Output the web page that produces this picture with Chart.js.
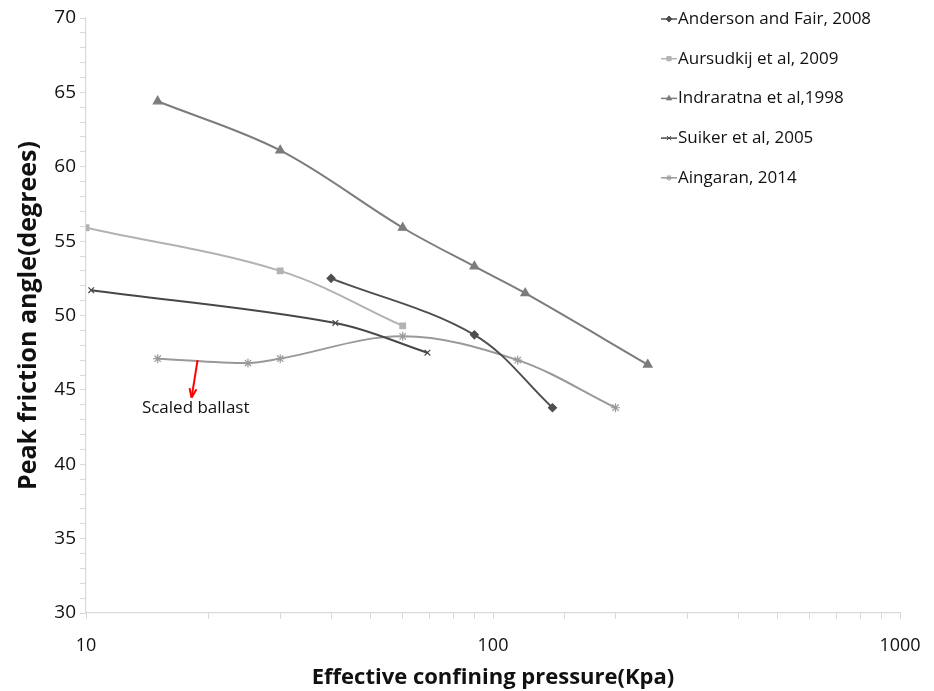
<!DOCTYPE html>
<html>
<head>
<meta charset="utf-8">
<script src="https://cdn.jsdelivr.net/npm/chart.js@4/dist/chart.umd.min.js"></script>
<style>
  html, body { margin: 0; padding: 0; background: #fff; }
  #wrap { width: 934px; height: 691px; }
</style>
</head>
<body>
<div id="wrap"><canvas id="c" width="934" height="691"></canvas></div>
<script>
// values (x = effective confining pressure, y = peak friction angle)
var seriesNames = ["Anderson and Fair, 2008", "Aursudkij et al, 2009", "Indraratna et al,1998", "Suiker et al, 2005", "Aingaran, 2014"];

var andersonX = [40, 90, 140];
var andersonY = [52.5, 48.7, 43.8];

var aursudkijX = [10, 30, 60];
var aursudkijY = [55.9, 53.0, 49.3];

var indraratnaX = [15, 30, 60, 90, 120, 240];
var indraratnaY = [64.4, 61.1, 55.9, 53.3, 51.5, 46.7];

var suikerX = [10.3, 41, 69];
var suikerY = [51.7, 49.5, 47.5];

var aingaranX = [15, 25, 30, 60, 115, 200];
var aingaranY = [47.1, 46.8, 47.1, 48.6, 47.0, 43.8];

var xLabels = [10, 100, 1000];
var annotationText = "Scaled ballast";

/* zip two arrays into {x, y} points */
var toPoints = function (xs, ys) {
    return xs.map(function (x, i) { return {x: x, y: ys[i]}; });
};

var styles = [
    {color: "#4f4f4f", point: "rectRot", radius: 4},
    {color: "#b2b2b2", point: "rect", radius: 4},
    {color: "#7c7c7c", point: "triangle", radius: 5},
    {color: "#474747", point: "crossRot", radius: 4},
    {color: "#999999", point: "star", radius: 4.5}
];
var allX = [andersonX, aursudkijX, indraratnaX, suikerX, aingaranX];
var allY = [andersonY, aursudkijY, indraratnaY, suikerY, aingaranY];

var datasets = seriesNames.map(function (name, i) {
    var s = styles[i];
    return {
        label: name,
        data: toPoints(allX[i], allY[i]),
        borderColor: s.color,
        backgroundColor: s.color,
        borderWidth: 2,
        pointStyle: s.point,
        pointRadius: s.radius,
        pointBorderWidth: 1.2,
        tension: 0.35,
        fill: false
    };
});

// legend drawn inside the plot, top right
var sideLegend = {
    id: "sideLegend",
    afterDraw: function (chart) {
        var ctx = chart.ctx;
        ctx.save();
        ctx.font = "17px 'Open Sans'";
        ctx.textBaseline = "middle";
        chart.data.datasets.forEach(function (ds, i) {
            var y = 19 + i * 39.7;
            ctx.strokeStyle = ds.borderColor;
            ctx.lineWidth = 1.5;
            ctx.beginPath();
            ctx.moveTo(661, y);
            ctx.lineTo(677, y);
            ctx.stroke();
            if (Chart.helpers && Chart.helpers.drawPoint) {
                ctx.fillStyle = ds.backgroundColor;
                ctx.lineWidth = 1;
                Chart.helpers.drawPoint(ctx, {pointStyle: ds.pointStyle, radius: 3, rotation: 0, borderWidth: 1}, 669, y);
            }
            ctx.fillStyle = "#111";
            ctx.fillText(ds.label, 678, y);
        });
        ctx.restore();
    }
};

// red arrow + note, anchored in data coordinates
var note = {
    id: "note",
    afterDatasetsDraw: function (chart) {
        var xs = chart.scales.x, ys = chart.scales.y, ctx = chart.ctx;
        var x0 = xs.getPixelForValue(18.8), y0 = ys.getPixelForValue(47.0);
        var x1 = xs.getPixelForValue(18.2), y1 = ys.getPixelForValue(44.6);
        ctx.save();
        ctx.strokeStyle = "#ff0000";
        ctx.fillStyle = "#ff0000";
        ctx.lineWidth = 2;
        ctx.beginPath();
        ctx.moveTo(x0, y0);
        ctx.lineTo(x1, y1);
        ctx.stroke();
        var a = Math.atan2(y1 - y0, x1 - x0);
        ctx.beginPath();
        ctx.moveTo(x1 + 2 * Math.cos(a), y1 + 2 * Math.sin(a));
        ctx.lineTo(x1 - 8 * Math.cos(a - 0.45), y1 - 8 * Math.sin(a - 0.45));
        ctx.moveTo(x1 + 2 * Math.cos(a), y1 + 2 * Math.sin(a));
        ctx.lineTo(x1 - 8 * Math.cos(a + 0.45), y1 - 8 * Math.sin(a + 0.45));
        ctx.stroke();
        ctx.font = "17px 'Open Sans'";
        ctx.fillStyle = "#111";
        ctx.textAlign = "center";
        ctx.textBaseline = "middle";
        ctx.fillText(annotationText, xs.getPixelForValue(18.6), ys.getPixelForValue(43.8));
        ctx.restore();
    }
};

new Chart(document.getElementById("c"), {
    type: "line",
    data: {datasets: datasets},
    plugins: [sideLegend, note],
    options: {
        responsive: false,
        animation: false,
        layout: {padding: {left: 14, right: 34, top: 18, bottom: 0}},
        plugins: {legend: {display: false}, tooltip: {enabled: false}},
        scales: {
            x: {
                type: "logarithmic",
                min: 10,
                max: 1000,
                afterFit: function (s) { s.height = 78; s.paddingRight = 0; s.paddingLeft = 0; },
                grid: {drawOnChartArea: false, drawTicks: true, tickLength: 6, color: "#d9d9d9", lineWidth: 1},
                border: {color: "#d9d9d9", width: 1.2},
                ticks: {
                    autoSkip: false,
                    maxRotation: 0,
                    padding: 16,
                    color: "#111",
                    font: {family: "'Open Sans'", size: 18},
                    callback: function (v) { return xLabels.indexOf(v) >= 0 ? String(v) : ""; }
                },
                title: {
                    display: true,
                    text: "Effective confining pressure(Kpa)",
                    color: "#111",
                    font: {family: "'Open Sans'", size: 22, weight: "bold"},
                    padding: {top: 0, bottom: 0}
                }
            },
            y: {
                min: 30,
                max: 70,
                afterFit: function (s) { s.width = 72; },
                grid: {drawOnChartArea: false, drawTicks: true, tickLength: 6, color: "#d9d9d9", lineWidth: 1},
                border: {color: "#d9d9d9", width: 1.2},
                ticks: {
                    stepSize: 1,
                    autoSkip: false,
                    padding: 4,
                    color: "#111",
                    font: {family: "'Open Sans'", size: 19},
                    callback: function (v) { return v % 5 === 0 ? String(v) : ""; }
                },
                title: {
                    display: true,
                    text: "Peak friction angle(degrees)",
                    color: "#111",
                    font: {family: "'Open Sans'", size: 25, weight: "bold"},
                    padding: {top: 0, bottom: 0}
                }
            }
        }
    }
});
</script>
</body>
</html>
